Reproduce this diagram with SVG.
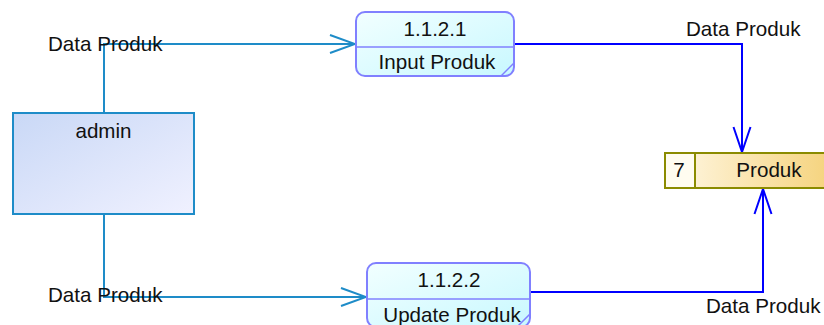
<svg xmlns="http://www.w3.org/2000/svg" width="824" height="325" viewBox="0 0 824 325">
<style>
text{font-family:"Liberation Sans",Arial,sans-serif;font-size:20.6px;fill:#111}
.proc{stroke:#8080FF;stroke-width:2}
.div{stroke:#8080FF;stroke-width:1.5;fill:none}
.flowA{fill:none;stroke:#1E8CC8;stroke-width:2}
.flowB{fill:none;stroke:#0000FF;stroke-width:2}
</style>
<defs>
<linearGradient id="gProc" x1="0" y1="0" x2="1" y2="1">
<stop offset="0" stop-color="#F2FFFF"/>
<stop offset="1" stop-color="#C8F8FF"/>
</linearGradient>
<linearGradient id="gAdmin" x1="0" y1="0" x2="1" y2="1">
<stop offset="0" stop-color="#C9D8F6"/>
<stop offset="1" stop-color="#F0F1FF"/>
</linearGradient>
<linearGradient id="gStore" x1="0" y1="0" x2="1" y2="0">
<stop offset="0" stop-color="#FFF8E6"/>
<stop offset="1" stop-color="#F5D27A"/>
</linearGradient>
<marker id="arrA" markerWidth="28" markerHeight="20" refX="26" refY="10" orient="auto" markerUnits="userSpaceOnUse">
<path d="M1,1 L26,10 L1,19" fill="none" stroke="#1E8CC8" stroke-width="2"/>
</marker>
<marker id="arrB" markerWidth="28" markerHeight="20" refX="26" refY="10" orient="auto" markerUnits="userSpaceOnUse">
<path d="M1,1.5 L26,10 L1,18.5" fill="none" stroke="#0000FF" stroke-width="2"/>
</marker>
</defs>

<g id="connectors">
<polyline class="flowA" points="104,113 104,44 355,44" marker-end="url(#arrA)"/>
<polyline class="flowA" points="104,214 104,297 366,297" marker-end="url(#arrA)"/>
<polyline class="flowB" points="514,44 742,44 742,152" marker-end="url(#arrB)"/>
<polyline class="flowB" points="530,292 763,292 763,189" marker-end="url(#arrB)"/>
<text x="48" y="51">Data Produk</text>
<text x="48" y="302">Data Produk</text>
<text x="686" y="36">Data Produk</text>
<text x="706" y="313">Data Produk</text>
</g>

<g id="admin">
<rect x="13" y="113" width="181" height="101" fill="url(#gAdmin)" stroke="#1E8CC8" stroke-width="2"/>
<text x="103.5" y="138" text-anchor="middle">admin</text>
</g>

<g id="p1121">
<rect class="proc" x="356" y="12" width="158" height="64" rx="9" fill="url(#gProc)"/>
<line class="div" x1="356" y1="47" x2="514" y2="47"/>
<line class="div" x1="501" y1="76" x2="514" y2="63"/>
<text x="435" y="36" text-anchor="middle">1.1.2.1</text>
<text x="437" y="69" text-anchor="middle">Input Produk</text>
</g>

<g id="p1122">
<rect class="proc" x="367" y="263" width="163" height="64" rx="9" fill="url(#gProc)"/>
<line class="div" x1="367" y1="299" x2="530" y2="299"/>
<line class="div" x1="517" y1="327" x2="530" y2="314"/>
<text x="449" y="287" text-anchor="middle">1.1.2.2</text>
<text x="452" y="322" text-anchor="middle">Update Produk</text>
</g>

<g id="store7">
<rect x="665" y="153" width="170" height="35" fill="url(#gStore)" stroke="#8B8B00" stroke-width="2"/>
<rect x="665" y="153" width="30" height="35" fill="#FFFCF0" stroke="#8B8B00" stroke-width="2"/>
<text x="679" y="177" text-anchor="middle">7</text>
<text x="769" y="177" text-anchor="middle">Produk</text>
</g>
</svg>
